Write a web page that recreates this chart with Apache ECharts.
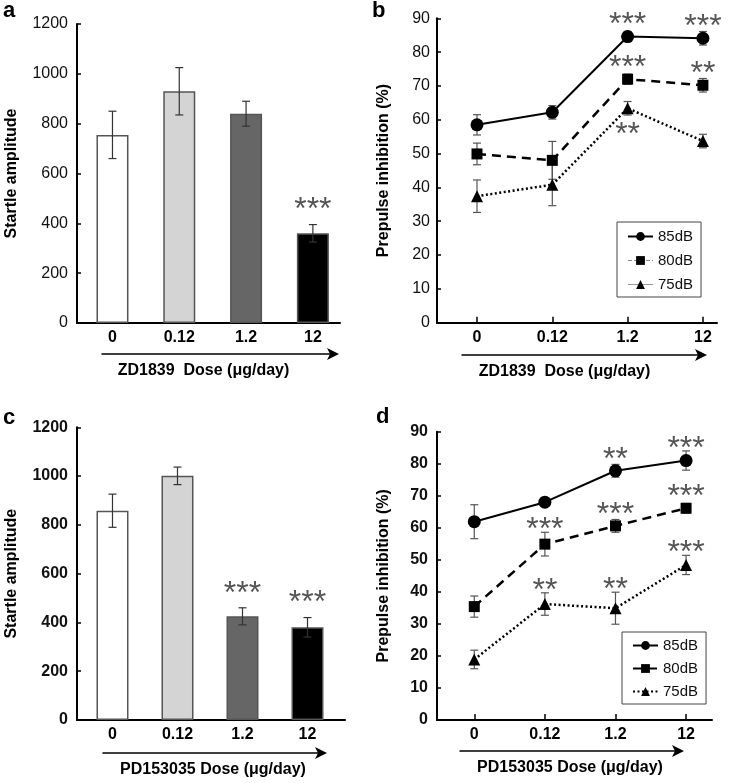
<!DOCTYPE html>
<html><head><meta charset="utf-8">
<script src="https://cdn.jsdelivr.net/npm/echarts@6/dist/echarts.min.js"></script>
<style>html,body{margin:0;padding:0;background:#fff}#c{width:739px;height:783px}</style>
</head><body><div id="c"></div>
<script>
// ---------- data ----------
const doses = ['0', '0.12', '1.2', '12'];
// panel a: ZD1839 startle
const startleA = [755, 930, 840, 360];
const startleAErr = [95, 95, 50, 35];
const sigA = ['', '', '', '***'];
// panel b: ZD1839 PPI
const ppiB85 = [58.5, 62.2, 84.6, 84.1];
const ppiB85Err = [3, 2, 1.5, 2];
const ppiB80 = [49.9, 48.0, 72.0, 70.2];
const ppiB80Err = [3.2, 5.6, 1.5, 2];
const ppiB75 = [37.4, 40.8, 63.4, 53.7];
const ppiB75Err = [4.8, 6.2, 2, 2];
const sigB85 = ['', '', '***', '***'];
const sigB80 = ['', '', '***', '**'];
const sigB75 = ['', '', '**', ''];
// panel c: PD153035 startle
const startleC = [858, 1001, 425, 380];
const startleCErr = [68, 36, 35, 40];
const sigC = ['', '', '***', '***'];
// panel d: PD153035 PPI
const ppiD85 = [61.9, 68.0, 77.8, 81.0];
const ppiD85Err = [5.3, 1, 2, 3];
const ppiD80 = [35.4, 54.9, 60.6, 66.1];
const ppiD80Err = [3.3, 3.7, 2, 1.5];
const ppiD75 = [18.9, 36.2, 34.9, 48.4];
const ppiD75Err = [2.9, 3.5, 5, 3];
const sigD85 = ['', '', '**', '***'];
const sigD80 = ['', '***', '***', '***'];
const sigD75 = ['', '**', '**', '***'];
const seriesNames = ['85dB', '80dB', '75dB'];

// ---------- styles ----------
const FF = '"Liberation Sans", Arial, sans-serif';
const barColors = ['#ffffff', '#d4d4d4', '#666666', '#000000'];

const chart = echarts.init(document.getElementById('c'), null, {renderer: 'canvas'});

function grid(left, top, width, height) {
  return {left, top, width, height, containLabel: false, outerBoundsMode: 'none', show: false};
}
function xAx(gi, min, max, ticks) {
  return {gridIndex: gi, type: 'value', min, max,
    axisLine: {show: true, onZero: false, lineStyle: {color: '#000', width: 2}},
    axisTick: {show: ticks, inside: true, length: 6, customValues: [0, 1, 2, 3], lineStyle: {color: '#000', width: 1.5}},
    axisLabel: {customValues: [0, 1, 2, 3], formatter: v => doses[Math.round(v)], fontSize: 16, fontWeight: 'bold', color: '#000', margin: 7, fontFamily: FF},
    splitLine: {show: false}};
}
function yAx(gi, max, interval, name, bold, margin, nameGap) {
  return {gridIndex: gi, type: 'value', min: 0, max, interval, name, nameLocation: 'middle', nameGap,
    nameTextStyle: {fontSize: 16, fontWeight: 'bold', color: '#000', fontFamily: FF},
    axisLine: {show: true, onZero: false, lineStyle: {color: '#000', width: 2}},
    axisTick: {show: true, inside: true, length: 4, lineStyle: {color: '#000', width: 1.5}},
    axisLabel: {fontSize: 16, color: '#111', fontWeight: bold ? 'bold' : 'normal', margin, fontFamily: FF, formatter: v => String(v)},
    splitLine: {show: false}};
}
function arrowX(gi, name, shift) {
  return {gridIndex: gi, type: 'value', min: 0, max: 1, name, nameLocation: 'middle', nameGap: 9,
    nameTextStyle: {fontSize: 16, fontWeight: 'bold', color: '#000', fontFamily: FF, padding: shift > 0 ? [0, shift, 0, 0] : [0, 0, 0, -shift]},
    axisLine: {show: true, symbol: ['none', 'arrow'], symbolSize: [9, 12], symbolOffset: [0, 4], lineStyle: {color: '#000', width: 1.5}},
    axisTick: {show: false}, axisLabel: {show: false}, splitLine: {show: false}};
}
function hiddenY(gi) { return {gridIndex: gi, type: 'value', show: false, min: 0, max: 1}; }

function errRender(color) {
  return function (params, api) {
    const x = api.value(0), y = api.value(1), e = api.value(2);
    const t = api.coord([x, y + e]), b = api.coord([x, y - e]);
    const cw = 4, st = {stroke: color, lineWidth: 1.2};
    return {type: 'group', children: [
      {type: 'line', shape: {x1: t[0], y1: t[1], x2: b[0], y2: b[1]}, style: st},
      {type: 'line', shape: {x1: t[0] - cw, y1: t[1], x2: t[0] + cw, y2: t[1]}, style: st},
      {type: 'line', shape: {x1: b[0] - cw, y1: b[1], x2: b[0] + cw, y2: b[1]}, style: st}
    ]};
  };
}
function starRender(sig, mode) {
  return function (params, api) {
    const s = sig[params.dataIndex];
    if (!s) return {type: 'group', children: []};
    const x = api.value(0), y = api.value(1), e = api.value(2);
    const p = api.coord([x, y]), t = api.coord([x, y + e]);
    let cy;
    if (mode === 'bar') cy = t[1] - 22;
    else if (mode === 'below') cy = p[1] + 19;
    else cy = Math.min(p[1] - 19, t[1] - 10);
    return {type: 'text', x: p[0], y: cy + 8, z2: 10,
      style: {text: s, fontSize: 32, fontFamily: FF, fill: '#555', align: 'center', verticalAlign: 'middle'}};
  };
}
function triple(vals, errs) { return vals.map((v, i) => [i, v, errs[i]]); }

function barPanel(gi, vals, errs, sig) {
  return [
    {type: 'bar', xAxisIndex: gi, yAxisIndex: gi, barWidth: 32, z: 2,
      data: vals.map((v, i) => ({value: [i, v], itemStyle: {color: barColors[i], borderColor: '#555', borderWidth: 1.5}}))},
    {type: 'custom', xAxisIndex: gi, yAxisIndex: gi, z: 3, renderItem: errRender('#333'), encode: {x: 0, y: 1}, data: triple(vals, errs)},
    {type: 'custom', xAxisIndex: gi, yAxisIndex: gi, z: 4, renderItem: starRender(sig, 'bar'), encode: {x: 0, y: 1}, data: triple(vals, errs)}
  ];
}
const lineStyles = [
  {type: 'solid', width: 2, color: '#000'},
  {type: [9, 6], width: 2.5, color: '#000'},
  {type: [2, 2.5], width: 2.5, color: '#000'}
];
const symbols = [['circle', 13], ['rect', 11], ['triangle', 12]];
function linePanel(gi, sets) {
  const out = [];
  sets.forEach((s, k) => {
    out.push({type: 'custom', xAxisIndex: gi, yAxisIndex: gi, z: 1, renderItem: errRender('#555'), encode: {x: 0, y: 1}, data: triple(s.vals, s.errs)});
    out.push({type: 'line', name: seriesNames[k], xAxisIndex: gi, yAxisIndex: gi, z: 2,
      symbol: symbols[k][0], symbolSize: symbols[k][1], showSymbol: true,
      lineStyle: lineStyles[k], itemStyle: {color: '#000'},
      data: s.vals.map((v, i) => [i, v])});
    out.push({type: 'custom', xAxisIndex: gi, yAxisIndex: gi, z: 4, renderItem: starRender(s.sig, s.mode || 'line'), encode: {x: 0, y: 1}, data: triple(s.vals, s.errs)});
  });
  return out;
}

const legendBase = {orient: 'vertical', itemWidth: 25, itemHeight: 11, itemGap: 9, selectedMode: false,
  borderColor: '#444', borderWidth: 1, textStyle: {fontSize: 15, color: '#111', fontFamily: FF}};

const option = {
  animation: false,
  backgroundColor: '#fff',
  textStyle: {fontFamily: FF},
  title: [
    {text: 'a', left: 3, top: 0, padding: 0, textStyle: {fontSize: 22, fontWeight: 'bold', color: '#000', fontFamily: FF}},
    {text: 'b', left: 372, top: 0, padding: 0, textStyle: {fontSize: 22, fontWeight: 'bold', color: '#000', fontFamily: FF}},
    {text: 'c', left: 3, top: 407, padding: 0, textStyle: {fontSize: 22, fontWeight: 'bold', color: '#000', fontFamily: FF}},
    {text: 'd', left: 376, top: 406, padding: 0, textStyle: {fontSize: 22, fontWeight: 'bold', color: '#000', fontFamily: FF}}
  ],
  legend: [
    Object.assign({}, legendBase, {left: 617, top: 222, padding: [7, 8, 5, 10], data: [
      {name: '85dB'},
      {name: '80dB', lineStyle: {color: '#888', width: 1, type: 'dashed'}},
      {name: '75dB', lineStyle: {color: '#999', width: 1, type: 'solid'}}
    ]}),
    Object.assign({}, legendBase, {left: 622, top: 632, padding: [6, 8, 5, 10], itemGap: 8, data: ['85dB', '80dB', '75dB']})
  ],
  grid: [
    grid(77, 24, 263, 299),
    grid(437, 18.3, 280, 304.4),
    grid(77, 427.3, 268, 292.7),
    grid(437, 431.7, 275, 288.3),
    grid(102, 353, 233, 1),
    grid(462, 354, 241, 1),
    grid(103, 752, 220, 1),
    grid(460, 750, 220, 1)
  ],
  xAxis: [
    xAx(0, -0.531, 3.406, false),
    xAx(1, -0.531, 3.187, true),
    xAx(2, -0.546, 3.577, false),
    xAx(3, -0.528, 3.367, true),
    arrowX(4, 'ZD1839  Dose (\u03bcg/day)', 30),
    arrowX(5, 'ZD1839  Dose (\u03bcg/day)', 36),
    arrowX(6, 'PD153035 Dose (\u03bcg/day)', 0),
    arrowX(7, 'PD153035 Dose (\u03bcg/day)', 0)
  ],
  yAxis: [
    yAx(0, 1200, 200, 'Startle amplitude', false, 9, 57),
    yAx(1, 90, 10, 'Prepulse inhibition (%)', false, 7, 45),
    yAx(2, 1200, 200, 'Startle amplitude', true, 9, 57),
    yAx(3, 90, 10, 'Prepulse inhibition (%)', true, 9, 45),
    hiddenY(4), hiddenY(5), hiddenY(6), hiddenY(7)
  ],
  series: [].concat(
    barPanel(0, startleA, startleAErr, sigA),
    linePanel(1, [
      {vals: ppiB85, errs: ppiB85Err, sig: sigB85},
      {vals: ppiB80, errs: ppiB80Err, sig: sigB80},
      {vals: ppiB75, errs: ppiB75Err, sig: sigB75, mode: 'below'}
    ]),
    barPanel(2, startleC, startleCErr, sigC),
    linePanel(3, [
      {vals: ppiD85, errs: ppiD85Err, sig: sigD85},
      {vals: ppiD80, errs: ppiD80Err, sig: sigD80},
      {vals: ppiD75, errs: ppiD75Err, sig: sigD75}
    ])
  )
};
chart.setOption(option);
</script>
</body></html>
